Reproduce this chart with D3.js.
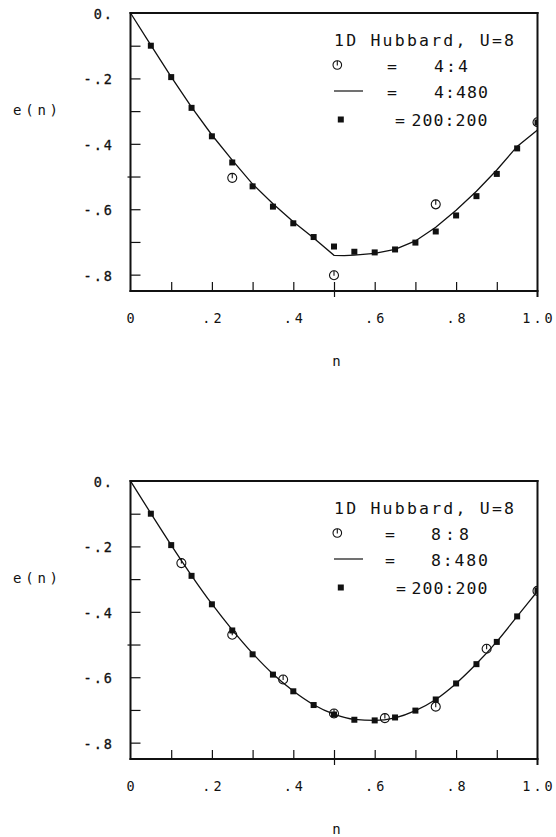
<!DOCTYPE html>
<html>
<head>
<meta charset="utf-8">
<script src="https://cdn.jsdelivr.net/npm/d3@7"></script>
<style>
  html, body { margin: 0; padding: 0; background: #fff; }
  svg { display: block; }
  text { font-family: "DejaVu Sans Mono", monospace; fill: #111; }
</style>
</head>
<body>
<svg id="fig" width="556" height="837"></svg>
<script>
// Ground-state energy per site e(n) of the 1D Hubbard model, U=8

// 200:200 reference points (same in both panels)
const nRef = [0.05, 0.10, 0.15, 0.20, 0.25, 0.30, 0.35, 0.40, 0.45, 0.50,
              0.55, 0.60, 0.65, 0.70, 0.75, 0.80, 0.85, 0.90, 0.95, 1.00];
const eRef = [-0.100, -0.196, -0.290, -0.377, -0.457, -0.530, -0.592, -0.643, -0.685, -0.714,
              -0.730, -0.732, -0.723, -0.702, -0.668, -0.619, -0.560, -0.492, -0.414, -0.335];

// Upper panel: 4-site cluster (4:4) and 4:480 curve
const n44 = [0.25, 0.50, 0.75, 1.00];
const e44 = [-0.504, -0.802, -0.585, -0.334];
const nCurve4 = [0, 0.05, 0.10, 0.15, 0.20, 0.25, 0.30, 0.35, 0.40, 0.45, 0.50, 0.525,
                 0.55, 0.60, 0.65, 0.70, 0.75, 0.80, 0.85, 0.90, 0.95, 1.00];
const eCurve4 = [0, -0.098, -0.195, -0.288, -0.373, -0.450, -0.523, -0.583, -0.638, -0.688, -0.741, -0.742,
                 -0.740, -0.735, -0.723, -0.697, -0.655, -0.603, -0.545, -0.480, -0.408, -0.358];

// Lower panel: 8-site cluster (8:8) and 8:480 curve
const n88 = [0.125, 0.25, 0.375, 0.50, 0.625, 0.75, 0.875, 1.00];
const e88 = [-0.251, -0.470, -0.607, -0.711, -0.725, -0.690, -0.513, -0.336];
const nCurve8 = [0, 0.05, 0.10, 0.15, 0.20, 0.25, 0.30, 0.35, 0.40, 0.45, 0.50,
                 0.55, 0.60, 0.65, 0.70, 0.75, 0.80, 0.85, 0.90, 0.95, 1.00];
const eCurve8 = [0, -0.099, -0.196, -0.289, -0.376, -0.455, -0.527, -0.590, -0.642, -0.684, -0.713,
                 -0.729, -0.732, -0.724, -0.702, -0.668, -0.619, -0.559, -0.491, -0.414, -0.337];

// Axis ticks and labels
const xMinor = [0.1, 0.2, 0.3, 0.4, 0.5, 0.6, 0.7, 0.8, 0.9];
const xLabelVals = [0, 0.2, 0.4, 0.6, 0.8, 1.0];
const xLabelText = ["0", ".2", ".4", ".6", ".8", "1.0"];
const yMinor = [-0.1, -0.2, -0.3, -0.4, -0.5, -0.6, -0.7, -0.8];
const yLabelVals = [0, -0.2, -0.4, -0.6, -0.8];
const yLabelText = ["0.", "-.2", "-.4", "-.6", "-.8"];

const panels = [
  { top: 13, circN: n44, circE: e44, curveN: nCurve4, curveE: eCurve4, curve: d3.curveLinear,
    legend: ["4:4", "4:480"], legendLen: [34, 54], legendX: 434, eqX: [392, 392, 400] },
  { top: 481, circN: n88, circE: e88, curveN: nCurve8, curveE: eCurve8, curve: d3.curveMonotoneX,
    legend: ["8:8", "8:480"], legendLen: [38, 57], legendX: 431, eqX: [390, 390, 401] }
];

const X0 = 130.5, X1 = 537.5, H = 278;
const svg = d3.select("#fig");

panels.forEach((p, pi) => {
  const x = d3.scaleLinear().domain([0, 1]).range([X0, X1]);
  const y = d3.scaleLinear().domain([-0.85, 0]).range([p.top + H, p.top]);
  const yb = y(-0.85);
  const g = svg.append("g");

  // frame edges as filled bars (top, right, left, bottom)
  const bar = (x0, y0, w, h) => g.append("rect").attr("x", x0).attr("y", y0)
    .attr("width", w).attr("height", h).attr("fill", "#111");
  bar(X0 - 1, p.top - 1, X1 - X0 + 2, 2);
  bar(X1 - 1, p.top - 1, 2, yb - p.top + 7);
  bar(X0 - 1, p.top - 1, 2, yb - p.top + 2);
  bar(X0 - 1, yb - 1, X1 - X0 + 2, 2);

  // x ticks (inward), the 0.5 tick crosses the axis
  const xa = g.append("g").attr("transform", `translate(0,${yb})`)
    .call(d3.axisBottom(x).tickValues(xMinor).tickSize(-9).tickFormat(""));
  xa.select(".domain").remove();
  xa.selectAll(".tick line").attr("stroke", "#111").attr("stroke-width", 1.2)
    .filter(d => Math.abs(d - 0.5) < 1e-9).attr("y1", 6);

  // y ticks (inward), the -0.5 tick crosses the axis
  const ya = g.append("g").attr("transform", `translate(${X0},0)`)
    .call(d3.axisLeft(y).tickValues(yMinor).tickSize(-10).tickFormat(""));
  ya.select(".domain").remove();
  ya.selectAll(".tick line").attr("stroke", "#111").attr("stroke-width", 1.2)
    .filter(d => Math.abs(d + 0.5) < 1e-9).attr("x1", -3);

  // tick labels
  g.selectAll(".xl").data(xLabelVals).join("text").attr("class", "xl")
    .attr("x", d => x(d) + 1.5).attr("y", yb + 31.5)
    .attr("text-anchor", "middle").attr("font-size", 13.5)
    .attr("letter-spacing", 3)
    .text((d, i) => xLabelText[i]);
  g.selectAll(".yl").data(yLabelVals).join("text").attr("class", "yl")
    .attr("x", 114).attr("y", d => y(d) + 6)
    .attr("text-anchor", "end").attr("font-size", 13.5)
    .attr("letter-spacing", 2)
    .attr("stroke", "#111").attr("stroke-width", 0.3)
    .text((d, i) => yLabelText[i]);

  // axis titles
  g.append("text").attr("x", 13).attr("y", p.top + 102).attr("font-size", 14)
    .attr("textLength", 45).attr("lengthAdjust", "spacing").text("e(n)");
  g.append("text").attr("x", 336.5).attr("y", yb + 74.5).attr("font-size", 14)
    .attr("text-anchor", "middle").text("n");

  // clip for plotted data
  const clipId = "clip" + pi;
  svg.append("clipPath").attr("id", clipId).append("rect")
    .attr("x", X0 - 8).attr("y", p.top - 8).attr("width", X1 - X0 + 8.5).attr("height", H + 16);
  const data = g.append("g").attr("clip-path", `url(#${clipId})`);

  // curve
  const line = d3.line().x(d => x(d[0])).y(d => y(d[1])).curve(p.curve);
  data.append("path").datum(p.curveN.map((n, i) => [n, p.curveE[i]]))
    .attr("d", line).attr("fill", "none").attr("stroke", "#111").attr("stroke-width", 1.3);

  // 200:200 squares
  data.selectAll(".sq").data(nRef.map((n, i) => [n, eRef[i]])).join("rect").attr("class", "sq")
    .attr("x", d => x(d[0]) - 3).attr("y", d => y(d[1]) - 3)
    .attr("width", 6).attr("height", 6).attr("fill", "#111");

  // cluster circles
  const circ = data.selectAll(".ci").data(p.circN.map((n, i) => [n, p.circE[i]])).join("g").attr("class", "ci")
    .attr("transform", d => `translate(${x(d[0])},${y(d[1])})`);
  circ.append("circle").attr("r", 4.5).attr("fill", "none").attr("stroke", "#111").attr("stroke-width", 1.1);
  circ.append("line").attr("x1", 0).attr("x2", 0).attr("y1", -4.5).attr("y2", 0.5)
    .attr("stroke", "#111").attr("stroke-width", 1.1);

  // legend
  const t = p.top;
  g.append("text").attr("x", 334).attr("y", t + 33).attr("font-size", 16.5)
    .attr("textLength", 180).attr("lengthAdjust", "spacing").text("1D Hubbard, U=8");

  const lc = g.append("g").attr("transform", `translate(337.3,${t + 52})`);
  lc.append("circle").attr("r", 4.3).attr("fill", "none").attr("stroke", "#111").attr("stroke-width", 1.1);
  lc.append("line").attr("x1", 0).attr("x2", 0).attr("y1", -4.3).attr("y2", 0.5)
    .attr("stroke", "#111").attr("stroke-width", 1.1);
  g.append("line").attr("x1", 334).attr("x2", 363).attr("y1", t + 78).attr("y2", t + 78)
    .attr("stroke", "#111").attr("stroke-width", 1.2);
  g.append("rect").attr("x", 337.8).attr("y", t + 103.5).attr("width", 6).attr("height", 6).attr("fill", "#111");

  const rowsY = [t + 58.5, t + 85, t + 112.5];
  p.eqX.forEach((ex, i) => {
    g.append("text").attr("x", ex).attr("y", rowsY[i]).attr("font-size", 16.5)
      .attr("text-anchor", "middle").text("=");
  });
  p.legend.forEach((s, i) => {
    g.append("text").attr("x", p.legendX).attr("y", rowsY[i]).attr("font-size", 16.5)
      .attr("textLength", p.legendLen[i]).attr("lengthAdjust", "spacing").text(s);
  });
  g.append("text").attr("x", 411.5).attr("y", rowsY[2]).attr("font-size", 16.5)
    .attr("textLength", 76).attr("lengthAdjust", "spacing").text("200:200");
});
</script>
</body>
</html>
